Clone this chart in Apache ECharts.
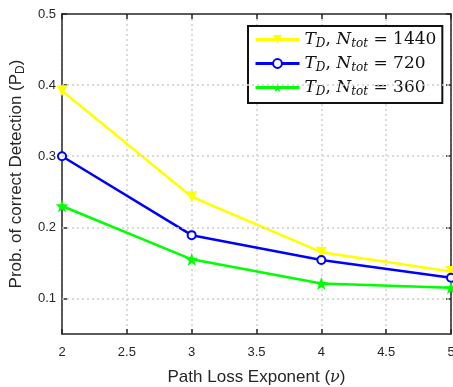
<!DOCTYPE html>
<html><head><meta charset="utf-8">
<script src="https://cdn.jsdelivr.net/npm/echarts@6/dist/echarts.min.js"></script>
<style>html,body{margin:0;padding:0;background:#fff}#c{width:453px;height:387px}</style>
</head><body><div id="c"></div>
<script>
const xValues = [2, 3, 4, 5];
const seriesNames = ['1440', '720', '360'];
const yN1440 = [0.392, 0.243, 0.165, 0.138];
const yN720 = [0.300, 0.189, 0.154, 0.129];
const yN360 = [0.230, 0.155, 0.121, 0.115];
const xTicks = [2, 2.5, 3, 3.5, 4, 4.5, 5];
const yTicks = [0.1, 0.2, 0.3, 0.4, 0.5];

const star = 'path://M0,-10 L2.35,-3.24 L9.51,-3.09 L3.80,1.24 L5.88,8.09 L0,4 L-5.88,8.09 L-3.80,1.24 L-9.51,-3.09 L-2.35,-3.24 Z';
const axisCol = '#262626';
const pairs = a => xValues.map((x, i) => [x, a[i]]);
const chart = echarts.init(document.getElementById('c'));
const axisCommon = {
  axisLine: {show: true, onZero: false, lineStyle: {color: axisCol, width: 1.5}},
  axisTick: {inside: true, length: 5, lineStyle: {color: axisCol, width: 1.5}},
};
const gridLine = {show: true, lineStyle: {color: '#cfcfcf', type: [2, 3], width: 1.5}};
const lbl = {color: axisCol, fontFamily: 'Liberation Sans, Arial', fontSize: 13};
chart.setOption({
  animation: false,
  grid: {left: 62, right: 2, top: 14, bottom: 53, containLabel: false, outerBoundsMode: 'none'},
  xAxis: [
    Object.assign({type: 'value', min: 2, max: 5, interval: 0.5, position: 'bottom',
      axisLabel: Object.assign({margin: 12}, lbl),
      splitLine: gridLine,
      name: 'Path Loss Exponent ({i|ν})', nameLocation: 'middle', nameGap: 35,
      nameTextStyle: {color: axisCol, fontFamily: 'Liberation Sans, Arial', fontSize: 17,
        rich: {i: {fontFamily: 'DejaVu Serif', fontStyle: 'italic', fontSize: 16, color: axisCol}}}
    }, axisCommon),
    Object.assign({type: 'value', min: 2, max: 5, interval: 0.5, position: 'top',
      axisLabel: {show: false}, splitLine: {show: false}}, axisCommon)
  ],
  yAxis: [
    Object.assign({type: 'value', min: 0.05, max: 0.5, position: 'left',
      axisLabel: Object.assign({customValues: yTicks, margin: 6}, lbl),
      axisTick: {inside: true, length: 5, customValues: yTicks, lineStyle: {color: axisCol, width: 1.5}},
      splitLine: {show: false},
      name: 'Prob. of correct Detection (P{s|D})', nameLocation: 'middle', nameGap: 33,
      nameTextStyle: {color: axisCol, fontFamily: 'Liberation Sans, Arial', fontSize: 17,
        rich: {s: {fontSize: 12, color: axisCol, fontFamily: 'Liberation Sans, Arial', padding: [10, 0, 0, 0]}}}
    }, {axisLine: axisCommon.axisLine}),
    Object.assign({type: 'value', min: 0.05, max: 0.5, position: 'right',
      axisLabel: {show: false}, splitLine: {show: false},
      axisTick: {inside: true, length: 5, customValues: yTicks, lineStyle: {color: axisCol, width: 1.5}}
    }, {axisLine: axisCommon.axisLine})
  ],
  legend: {
    left: 248, top: 26, orient: 'vertical', itemGap: 5, itemWidth: 44, itemHeight: 11,
    padding: [5, 6, 5, 6],
    backgroundColor: '#fff', borderColor: '#111', borderWidth: 2, borderRadius: 0,
    data: seriesNames,
    lineStyle: {width: 3},
    formatter: n => '{i|T}{s|D}{n|, }{i|N}{s|tot}{n| = ' + n + '}',
    textStyle: {
      rich: {
        i: {fontFamily: 'DejaVu Serif', fontStyle: 'italic', fontSize: 17, color: '#111'},
        s: {fontFamily: 'DejaVu Serif', fontStyle: 'italic', fontSize: 12, color: '#111', padding: [9, 0, 0, 0]},
        n: {fontFamily: 'DejaVu Serif', fontSize: 17, color: '#111'}
      }
    }
  },
  series: [
    {name: '1440', type: 'line', data: pairs(yN1440), color: '#ffff00',
      lineStyle: {width: 2.5}, symbol: 'triangle', symbolRotate: 180, symbolSize: 11,
      itemStyle: {color: '#ffff00'}, z: 3},
    {name: '720', type: 'line', data: pairs(yN720), color: '#0000ff',
      lineStyle: {width: 2.5}, symbol: 'emptyCircle', symbolSize: 8,
      itemStyle: {color: '#0000ff', borderWidth: 2}, z: 4},
    {name: '360', type: 'line', data: pairs(yN360), color: '#00ff00',
      lineStyle: {width: 2.5}, symbol: star, symbolSize: 13,
      itemStyle: {color: '#00ff00'}, z: 5},
    {type: 'line', data: [], markLine: {silent: true, symbol: 'none', label: {show: false},
      lineStyle: {color: '#cfcfcf', type: [2, 3], width: 1.5},
      data: yTicks.slice(0, 4).map(v => ({yAxis: v}))}, z: 1}
  ]
});
</script></body></html>
